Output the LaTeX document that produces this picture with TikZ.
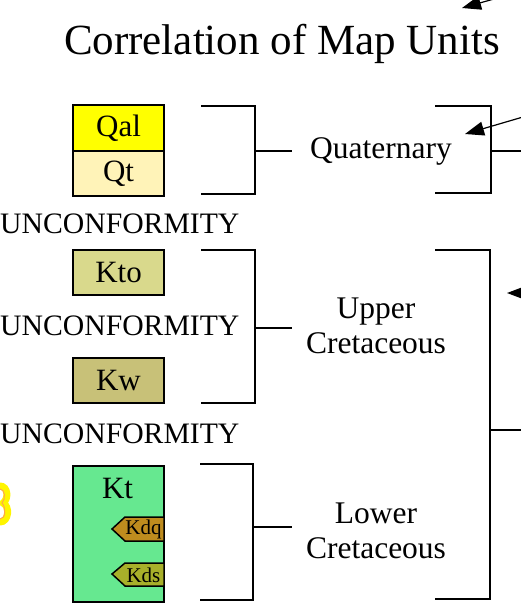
\documentclass[tikz,border=0pt]{standalone}
\usepackage{fontspec}
\setmainfont{Liberation Serif}
\usetikzlibrary{arrows.meta}
\definecolor{cqal}{RGB}{255,255,0}
\definecolor{cqt}{RGB}{255,243,184}
\definecolor{ckto}{RGB}{217,217,140}
\definecolor{ckw}{RGB}{200,193,120}
\definecolor{ckt}{RGB}{102,232,144}
\definecolor{ckdq}{RGB}{190,140,30}
\definecolor{ckds}{RGB}{168,176,42}
\definecolor{glow}{RGB}{255,245,0}
\begin{document}
\begin{tikzpicture}[x=1pt,y=-1pt,
  unit/.style={draw=black,line width=2pt,minimum width=91pt,inner sep=0pt,font=\fontsize{31}{31}\selectfont},
  tag/.style={draw=black,line width=1.5pt},
  tagtext/.style={inner sep=0pt,font=\fontsize{21}{21}\selectfont},
  brk/.style={line width=2.5pt},
  unc/.style={inner sep=0pt,anchor=base west,font=\fontsize{29.7}{30}\selectfont},
  lbl/.style={inner sep=0pt,anchor=base,font=\fontsize{31.5}{31.5}\selectfont},
  ptr/.style={line width=1.2pt,-{Triangle[length=19pt,width=14pt]}}]
\useasboundingbox (0,0) rectangle (521,607);

% title
\node[inner sep=0pt,anchor=base,font=\fontsize{43}{43}\selectfont] (title) at (282,55) {Correlation of Map Units};

% left yellow fragment
\draw[glow,line width=7pt,line cap=round] (0,486) .. controls (8,486) and (9,499) .. (3,503) .. controls (10,506) and (9,522) .. (0,522);
\draw[orange!70,line width=1pt] (0,489) .. controls (5,489) and (6,499) .. (2,503) .. controls (6,507) and (6,519) .. (0,519);

% units
\node[unit,fill=cqal,minimum height=46pt] (qal) at (118.5,128) {Qal};
\node[unit,fill=cqt,minimum height=45pt] (qt) at (118.5,173.5) {Qt};
\node[unit,fill=ckto,minimum height=45pt] (kto) at (118.5,272.5) {Kto};
\node[unit,fill=ckw,minimum height=45pt] (kw) at (118.5,380.5) {Kw};
\node[unit,fill=ckt,minimum height=136pt] (kt) at (118.5,534) {};
\node[inner sep=0pt,anchor=base,font=\fontsize{31}{31}\selectfont] (ktl) at (117.5,498) {Kt};

\draw[tag,fill=ckdq] (112,529) -- (125,517) -- (164,517) -- (164,541) -- (125,541) -- cycle;
\node[tagtext] (kdq) at (143.5,529) {Kdq};
\draw[tag,fill=ckds] (112,574) -- (125,563) -- (164,563) -- (164,586) -- (125,586) -- cycle;
\node[tagtext] (kds) at (143.5,575) {Kds};

% unconformities
\node[unc] (u1) at (0,233) {UNCONFORMITY};
\node[unc] (u2) at (0,335) {UNCONFORMITY};
\node[unc] (u3) at (0,443) {UNCONFORMITY};

% labels
\node[lbl] (quat) at (381,158) {Quaternary};
\node[lbl] (up1) at (376,318) {Upper};
\node[lbl] (up2) at (376,353) {Cretaceous};
\node[lbl] (lo1) at (376,523) {Lower};
\node[lbl] (lo2) at (376,558) {Cretaceous};

% left brackets
\coordinate (s1) at (255,151);
\coordinate (e1) at (292,151);
\coordinate (s2) at (255,328);
\coordinate (e2) at (292,328);
\coordinate (s3) at (253,527);
\coordinate (e3) at (292,527);
\draw[brk] (201,106) -| (255,194) -- (201,194);
\draw[brk] (s1) -- (e1);
\draw[brk] (201,250) -| (255,403) -- (201,403);
\draw[brk] (s2) -- (e2);
\draw[brk] (200,464) -| (253,600) -- (200,600);
\draw[brk] (s3) -- (e3);

% right brackets
\coordinate (r1) at (491,151);
\coordinate (r1e) at (535,151);
\coordinate (r2) at (490,430);
\coordinate (r2e) at (535,430);
\draw[brk] (435,106) -| (491,193) -- (435,193);
\draw[brk] (r1) -- (r1e);
\draw[brk] (435,250) -| (490,599) -- (435,599);
\draw[brk] (r2) -- (r2e);

% pointers
\coordinate (p1) at (540,-14);
\coordinate (t1) at (462,8);
\coordinate (p2) at (540,112);
\coordinate (t2) at (465,134);
\coordinate (p3) at (545,293);
\coordinate (t3) at (507,293);
\draw[ptr] (p1) -- (t1);
\draw[ptr] (p2) -- (t2);
\draw[ptr] (p3) -- (t3);
\end{tikzpicture}
\end{document}
